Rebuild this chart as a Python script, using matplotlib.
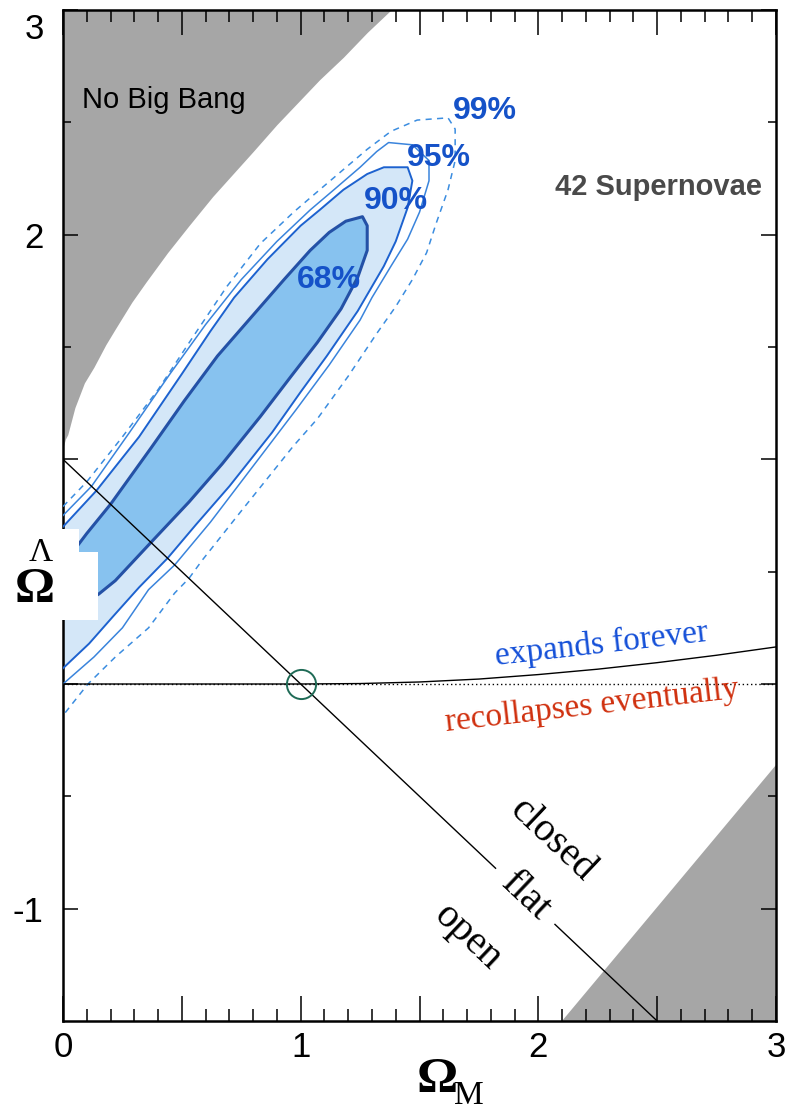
import matplotlib
matplotlib.use('Agg')
import matplotlib.pyplot as plt
from matplotlib.patches import Rectangle
from matplotlib.ticker import FixedLocator, FixedFormatter, MultipleLocator

# confidence contours in the (Omega_M, Omega_Lambda) plane, traced from the left edge,
# up the upper-left side, round the top and back down the lower-right side
C68_X = [0.00, 0.10, 0.20, 0.37, 0.51, 0.65, 0.79, 0.93, 1.04, 1.12, 1.19, 1.26, 1.28,
         1.28, 1.24, 1.17, 1.07, 0.96, 0.83, 0.67, 0.53, 0.37, 0.22, 0.15, 0.07, 0.00]
C68_Y = [0.53, 0.67, 0.80, 1.05, 1.26, 1.46, 1.63, 1.80, 1.93, 2.01, 2.06, 2.08, 2.04,
         1.93, 1.81, 1.67, 1.52, 1.37, 1.19, 0.98, 0.81, 0.63, 0.46, 0.40, 0.35, 0.33]

C90_X = [0.00, 0.14, 0.32, 0.50, 0.62, 0.72, 0.86, 1.00, 1.08, 1.18, 1.28, 1.35, 1.45, 1.47,
         1.45, 1.43, 1.40, 1.35, 1.24, 1.11, 1.00, 0.88, 0.70, 0.56, 0.44, 0.32, 0.21, 0.11, 0.00]
C90_Y = [0.70, 0.86, 1.10, 1.38, 1.57, 1.72, 1.89, 2.04, 2.11, 2.20, 2.27, 2.30, 2.30, 2.24,
         2.12, 2.06, 1.97, 1.86, 1.66, 1.46, 1.30, 1.12, 0.88, 0.71, 0.56, 0.43, 0.30, 0.18, 0.07]

C95_X = [0.00, 0.12, 0.28, 0.45, 0.60, 0.75, 0.90, 1.04, 1.14, 1.25, 1.32, 1.37, 1.47, 1.54,
         1.54, 1.50, 1.45, 1.38, 1.30, 1.25, 1.12, 0.98, 0.80, 0.62, 0.47, 0.36, 0.25, 0.13, 0.00]
C95_Y = [0.75, 0.88, 1.12, 1.38, 1.60, 1.80, 1.97, 2.11, 2.20, 2.30, 2.37, 2.41, 2.40, 2.33,
         2.24, 2.10, 1.98, 1.86, 1.72, 1.62, 1.42, 1.22, 0.97, 0.72, 0.53, 0.42, 0.25, 0.12, 0.00]

C99_X = [0.00, 0.10, 0.25, 0.40, 0.55, 0.69, 0.83, 0.97, 1.08, 1.18, 1.28, 1.38, 1.49, 1.62,
         1.65, 1.65, 1.62, 1.57, 1.53, 1.47, 1.40, 1.32, 1.20, 1.07, 0.97, 0.75, 0.585, 0.53,
         0.47, 0.36, 0.22, 0.105, 0.00]
C99_Y = [0.79, 0.90, 1.10, 1.31, 1.55, 1.77, 1.96, 2.10, 2.20, 2.29, 2.38, 2.46, 2.51, 2.52,
         2.47, 2.33, 2.20, 2.05, 1.92, 1.80, 1.68, 1.56, 1.37, 1.18, 1.06, 0.77, 0.55, 0.47,
         0.405, 0.25, 0.12, 0.00, -0.14]

# "no big bang" boundary (upper left) and excluded corner (lower right)
NOBB_X = [0.00, 0.01, 0.02, 0.05, 0.09, 0.13, 0.18, 0.22, 0.29, 0.35, 0.44, 0.53, 0.63,
          0.80, 0.90, 0.99, 1.08, 1.18, 1.28, 1.38]
NOBB_Y = [1.05, 1.09, 1.11, 1.23, 1.34, 1.41, 1.51, 1.58, 1.70, 1.79, 1.92, 2.04, 2.17,
          2.37, 2.49, 2.59, 2.69, 2.79, 2.90, 3.00]
CORNER_X = [2.10, 3.00, 3.00]
CORNER_Y = [-1.50, -1.50, -0.36]

# expands forever / recollapses eventually boundary
EXPAND_X = [0.00, 1.00, 1.25, 1.50, 1.75, 2.00, 2.25, 2.50, 2.75, 3.00]
EXPAND_Y = [0.00, 0.00, 0.002, 0.009, 0.022, 0.042, 0.066, 0.095, 0.128, 0.165]

# flat universe line, broken where the "flat" label sits
FLAT_A_X = [0.00, 1.82]
FLAT_A_Y = [1.00, -0.82]
FLAT_B_X = [2.07, 2.50]
FLAT_B_Y = [-1.07, -1.50]

X_TICKS = [0, 0.5, 1, 1.5, 2, 2.5, 3]
X_LABELS = ['0', '', '1', '', '2', '', '3']
Y_TICKS = [-1, 0, 1, 2, 3]
Y_LABELS = ['-1', '', '', '2', '']
Y_MINOR = [-0.5, 0.5, 1.5, 2.5]

GRAY = '#a6a6a6'
SERIF = ['Liberation Serif', 'DejaVu Serif']
plt.rcParams['font.family'] = ['Liberation Sans', 'DejaVu Sans']

W, H = 788, 1111
fig = plt.figure(figsize=(W / 100, H / 100), dpi=100)
ax = fig.add_axes([63 / W, 90 / H, 713 / W, 1011 / H])
ax.set_xlim(0, 3)
ax.set_ylim(-1.5, 3)

ax.fill_between(NOBB_X, NOBB_Y, 3.0, color=GRAY, lw=0, zorder=1)
ax.fill(CORNER_X, CORNER_Y, color=GRAY, lw=0, zorder=1)

ax.fill(C90_X, C90_Y, color='#d4e7f8', lw=0, zorder=2)
ax.fill(C68_X, C68_Y, color='#87c2ef', lw=0, zorder=2)
ax.plot(C99_X, C99_Y, color='#3b8de0', lw=1.1, dashes=(4, 3.5), zorder=3)
ax.plot(C95_X, C95_Y, color='#3a84dc', lw=1.1, zorder=3)
ax.plot(C90_X, C90_Y, color='#1d62cf', lw=1.4, zorder=3)
ax.plot(C68_X, C68_Y, color='#2451a6', lw=2.2, zorder=3)

ax.plot([0, 3], [0, 0], color='black', lw=1.0, ls=(0, (1, 2)), zorder=4)
ax.plot(EXPAND_X, EXPAND_Y, color='black', lw=1.0, zorder=4)
ax.plot(FLAT_A_X, FLAT_A_Y, color='black', lw=1.0, zorder=4)
ax.plot(FLAT_B_X, FLAT_B_Y, color='black', lw=1.0, zorder=4)
ax.plot([1.0], [0.0], marker='o', ms=21, mfc='none', mec='#1f6b56', mew=1.4, zorder=5)

lab_kw = dict(fontsize=23, weight='bold', color='#1552c8', ha='center', va='center', zorder=6)
ax.text(1.12, 1.80, '68%', **lab_kw)
ax.text(1.40, 2.15, '90%', **lab_kw)
ax.text(1.58, 2.34, '95%', **lab_kw)
ax.text(1.775, 2.55, '99%', **lab_kw)

ax.text(0.08, 2.563, 'No Big Bang', fontsize=21, ha='left', va='baseline', zorder=6)
ax.text(2.94, 2.176, '42 Supernovae', fontsize=21, weight='bold', color='#4a4a4a',
        ha='right', va='baseline', zorder=6)

ax.text(2.268, 0.174, 'expands forever', family=SERIF, fontsize=24, color='#1550d8',
        rotation=6.5, rotation_mode='anchor', ha='center', va='center', zorder=6)
ax.text(2.226, -0.098, 'recollapses eventually', family=SERIF, fontsize=24, color='#d0300e',
        rotation=6.5, rotation_mode='anchor', ha='center', va='center', zorder=6)

ang = -43.4
ax.text(2.061, -0.694, 'closed', family=SERIF, fontsize=29, rotation=ang,
        rotation_mode='anchor', ha='center', va='center', zorder=6)
ax.text(1.945, -0.945, 'flat', family=SERIF, fontsize=29, rotation=ang,
        rotation_mode='anchor', ha='center', va='center', zorder=6)
ax.text(1.704, -1.13, 'open', family=SERIF, fontsize=29, rotation=ang,
        rotation_mode='anchor', ha='center', va='center', zorder=6)

# axes frame and ticks
for s in ax.spines.values():
    s.set_linewidth(1.8)
ax.xaxis.set_major_locator(FixedLocator(X_TICKS))
ax.xaxis.set_major_formatter(FixedFormatter(X_LABELS))
ax.xaxis.set_minor_locator(MultipleLocator(0.1))
ax.yaxis.set_major_locator(FixedLocator(Y_TICKS))
ax.yaxis.set_major_formatter(FixedFormatter(Y_LABELS))
ax.yaxis.set_minor_locator(FixedLocator(Y_MINOR))
ax.tick_params(which='both', direction='in', top=True, right=True, width=1.1)
ax.tick_params(axis='x', which='major', length=18, labelsize=25, pad=7)
ax.tick_params(axis='x', which='minor', length=8.6)
ax.tick_params(axis='y', which='major', length=10.8, labelsize=25, pad=14)
ax.tick_params(axis='y', which='minor', length=5.8)
ax.annotate('3', xy=(0, 3), xycoords=('axes fraction', 'data'), xytext=(-14, -14),
            textcoords='offset points', fontsize=25, ha='right', va='center')

# white patch over the left edge carrying the Omega_Lambda label
fig.add_artist(Rectangle((0, (H - 552) / H), 79 / W, 23 / H, transform=fig.transFigure,
                         facecolor='white', edgecolor='none', zorder=10))
fig.add_artist(Rectangle((0, (H - 620) / H), 98 / W, 68 / H, transform=fig.transFigure,
                         facecolor='white', edgecolor='none', zorder=10))
fig.text(35 / W, (H - 590) / H, 'Ω', family=SERIF, fontsize=36, weight='bold',
         ha='center', va='center', zorder=11)
fig.text(41 / W, (H - 553) / H, 'Λ', family=SERIF, fontsize=24, ha='center', va='center',
         zorder=11)

fig.text(437 / W, (H - 1080) / H, 'Ω', family=SERIF, fontsize=37, weight='bold',
         ha='center', va='center')
fig.text(469 / W, (H - 1096) / H, 'M', family=SERIF, fontsize=24, ha='center', va='center')

fig.savefig('out.png', dpi=100)
